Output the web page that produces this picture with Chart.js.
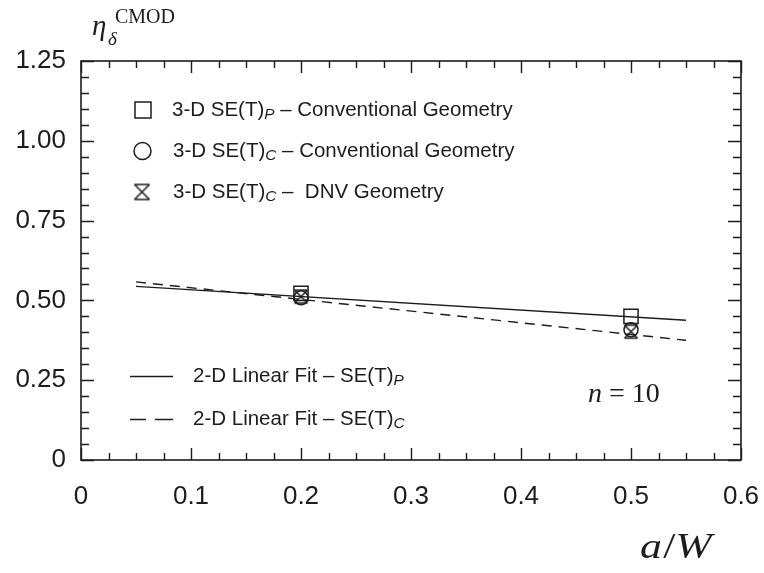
<!DOCTYPE html>
<html>
<head>
<meta charset="utf-8">
<script src="https://cdn.jsdelivr.net/npm/chart.js@4.4.1/dist/chart.umd.min.js"></script>
<style>
  html, body { margin: 0; padding: 0; background: #ffffff; }
  #wrap { width: 764px; height: 573px; position: relative; }
</style>
</head>
<body>
<div id="wrap"><canvas id="c" width="764" height="573"></canvas></div>
<script>
// ---- data ----
const aW = [0.2, 0.5];
const seP_conventional = [0.522, 0.45];
const seC_conventional = [0.508, 0.408];
const seC_dnv = [0.512, 0.402];
const fitX = [0.05, 0.55];
const fitP = [0.544, 0.438];
const fitC = [0.558, 0.375];
const xTickLabels = ['0', '0.1', '0.2', '0.3', '0.4', '0.5', '0.6'];
const yTickLabels = ['0', '0.25', '0.50', '0.75', '1.00', '1.25'];
const legendMarkers = ['3-D SE(T)|P| – Conventional Geometry', '3-D SE(T)|C| – Conventional Geometry', '3-D SE(T)|C| –  DNV Geometry'];
const legendLines = ['2-D Linear Fit – SE(T)|P|', '2-D Linear Fit – SE(T)|C|'];

const INK = '#1c1c1c';
const SANS = '"Liberation Sans", Arial, Helvetica, sans-serif';
const SERIF = '"Liberation Serif", "DejaVu Serif", serif';

function makeHourglass(size) {
  const c = document.createElement('canvas');
  c.width = size + 4; c.height = size + 4;
  const g = c.getContext('2d');
  g.strokeStyle = INK; g.lineWidth = 1.5;
  const o = 2, s = size;
  g.beginPath();
  g.moveTo(o, o); g.lineTo(o + s, o + s);
  g.moveTo(o + s, o); g.lineTo(o, o + s);
  g.moveTo(o, o); g.lineTo(o + s, o);
  g.moveTo(o, o + s); g.lineTo(o + s, o + s);
  g.stroke();
  return c;
}
const hourglassPoint = makeHourglass(13);
const hourglassLegend = makeHourglass(15);

function pts(xs, ys) { return xs.map((x, i) => ({ x: x, y: ys[i] })); }

function drawRich(ctx, str, x, y, size) {
  const parts = str.split('|');
  let cx = x;
  ctx.textBaseline = 'middle';
  ctx.textAlign = 'left';
  parts.forEach((p, i) => {
    if (i % 2 === 1) {
      ctx.font = 'italic ' + (size * 0.75).toFixed(1) + 'px ' + SANS;
      ctx.fillText(p, cx, y + size * 0.25);
    } else {
      ctx.font = size + 'px ' + SANS;
      ctx.fillText(p, cx, y);
    }
    cx += ctx.measureText(p).width;
  });
}

const decor = {
  id: 'decor',
  afterDraw(chart) {
    const ctx = chart.ctx;
    const a = chart.chartArea;
    const xs = chart.scales.x, ys = chart.scales.y;
    ctx.save();
    ctx.strokeStyle = INK; ctx.fillStyle = INK;
    ctx.lineWidth = 1.6;
    ctx.strokeRect(a.left, a.top, a.right - a.left, a.bottom - a.top);
    ctx.lineWidth = 1.4;
    ctx.beginPath();
    for (let i = 0; i <= 24; i++) {
      const px = Math.round(xs.getPixelForValue(i * 0.025)) + 0.5;
      const L = (i % 4 === 0) ? 12 : 7;
      ctx.moveTo(px, a.bottom); ctx.lineTo(px, a.bottom - L);
      ctx.moveTo(px, a.top); ctx.lineTo(px, a.top + L);
    }
    for (let i = 0; i <= 25; i++) {
      const py = Math.round(ys.getPixelForValue(i * 0.05)) + 0.5;
      const L = (i % 5 === 0) ? 13 : 8;
      ctx.moveTo(a.left, py); ctx.lineTo(a.left + L, py);
      ctx.moveTo(a.right, py); ctx.lineTo(a.right - L, py);
    }
    ctx.stroke();

    // marker legend
    const rows = [110, 151, 192];
    ctx.lineWidth = 1.5;
    ctx.strokeRect(135, rows[0] - 8, 16, 16);
    ctx.beginPath(); ctx.arc(142.5, rows[1], 8.5, 0, Math.PI * 2); ctx.stroke();
    ctx.drawImage(hourglassLegend, 142 - 9.5, rows[2] - 9.5);
    ctx.fillStyle = INK;
    drawRich(ctx, legendMarkers[0], 172, rows[0], 20.5);
    drawRich(ctx, legendMarkers[1], 173, rows[1], 20.5);
    drawRich(ctx, legendMarkers[2], 173, rows[2], 20.5);

    // line legend
    ctx.lineWidth = 1.4;
    ctx.beginPath(); ctx.moveTo(130, 376.5); ctx.lineTo(173, 376.5); ctx.stroke();
    ctx.beginPath(); ctx.moveTo(130, 419.5); ctx.lineTo(146, 419.5);
    ctx.moveTo(155, 419.5); ctx.lineTo(173, 419.5); ctx.stroke();
    drawRich(ctx, legendLines[0], 193, 376, 20.5);
    drawRich(ctx, legendLines[1], 193, 419, 20.5);

    // n = 10
    ctx.textBaseline = 'alphabetic'; ctx.textAlign = 'left';
    ctx.font = 'italic 28px ' + SERIF;
    ctx.fillText('n', 588, 402);
    let w = ctx.measureText('n').width;
    ctx.font = '28px ' + SERIF;
    ctx.fillText(' = 10', 588 + w, 402);

    // y-axis title eta_delta^CMOD
    ctx.font = 'italic 29px ' + SERIF;
    ctx.fillText('η', 92, 35);
    ctx.font = 'italic 19px ' + SERIF;
    ctx.fillText('δ', 108, 45);
    ctx.font = '20px ' + SERIF;
    ctx.fillText('CMOD', 115, 23);

    // x-axis title a/W
    ctx.save();
    ctx.translate(640, 558);
    ctx.scale(1.25, 1);
    let x0 = 0;
    ctx.font = 'italic 35px ' + SERIF;
    ctx.fillText('a', x0, 0); x0 += ctx.measureText('a').width + 1;
    ctx.font = '35px ' + SERIF;
    ctx.fillText('/', x0, 0); x0 += ctx.measureText('/').width;
    ctx.font = 'italic 35px ' + SERIF;
    ctx.fillText('W', x0, 0);
    ctx.restore();
    ctx.restore();
  }
};

new Chart(document.getElementById('c'), {
  type: 'scatter',
  data: {
    datasets: [
      { label: 'fitP', data: pts(fitX, fitP), showLine: true, borderColor: INK, borderWidth: 1.4, pointRadius: 0, fill: false },
      { label: 'fitC', data: pts(fitX, fitC), showLine: true, borderColor: INK, borderWidth: 1.4, borderDash: [10, 7], pointRadius: 0, fill: false },
      { label: 'P conv', data: pts(aW, seP_conventional), pointStyle: 'rect', radius: 10, borderColor: INK, backgroundColor: 'rgba(0,0,0,0)', borderWidth: 1.5 },
      { label: 'C conv', data: pts(aW, seC_conventional), pointStyle: 'circle', radius: 7, borderColor: INK, backgroundColor: 'rgba(0,0,0,0)', borderWidth: 1.5 },
      { label: 'C DNV', data: pts(aW, seC_dnv), pointStyle: hourglassPoint, radius: 7, borderColor: INK, borderWidth: 1.5 }
    ]
  },
  options: {
    responsive: false,
    animation: false,
    devicePixelRatio: 1,
    layout: { padding: { top: 61, right: 23, left: 0, bottom: 0 } },
    plugins: { legend: { display: false }, tooltip: { enabled: false } },
    scales: {
      x: {
        type: 'linear', min: 0, max: 0.6,
        grid: { display: false, drawTicks: false },
        border: { display: false },
        afterFit(s) { s.height = 113; s.paddingLeft = 0; s.paddingRight = 0; },
        ticks: {
          stepSize: 0.1, padding: 21, color: INK,
          font: { family: SANS, size: 26 },
          callback: (v, i) => xTickLabels[i]
        }
      },
      y: {
        type: 'linear', min: 0, max: 1.25,
        grid: { display: false, drawTicks: false },
        border: { display: false },
        afterFit(s) { s.width = 81; s.paddingTop = 0; s.paddingBottom = 0; },
        ticks: {
          stepSize: 0.25, padding: 15, color: INK,
          font: { family: SANS, size: 26 },
          callback: (v, i) => yTickLabels[i]
        }
      }
    }
  },
  plugins: [decor]
});
</script>
</body>
</html>
